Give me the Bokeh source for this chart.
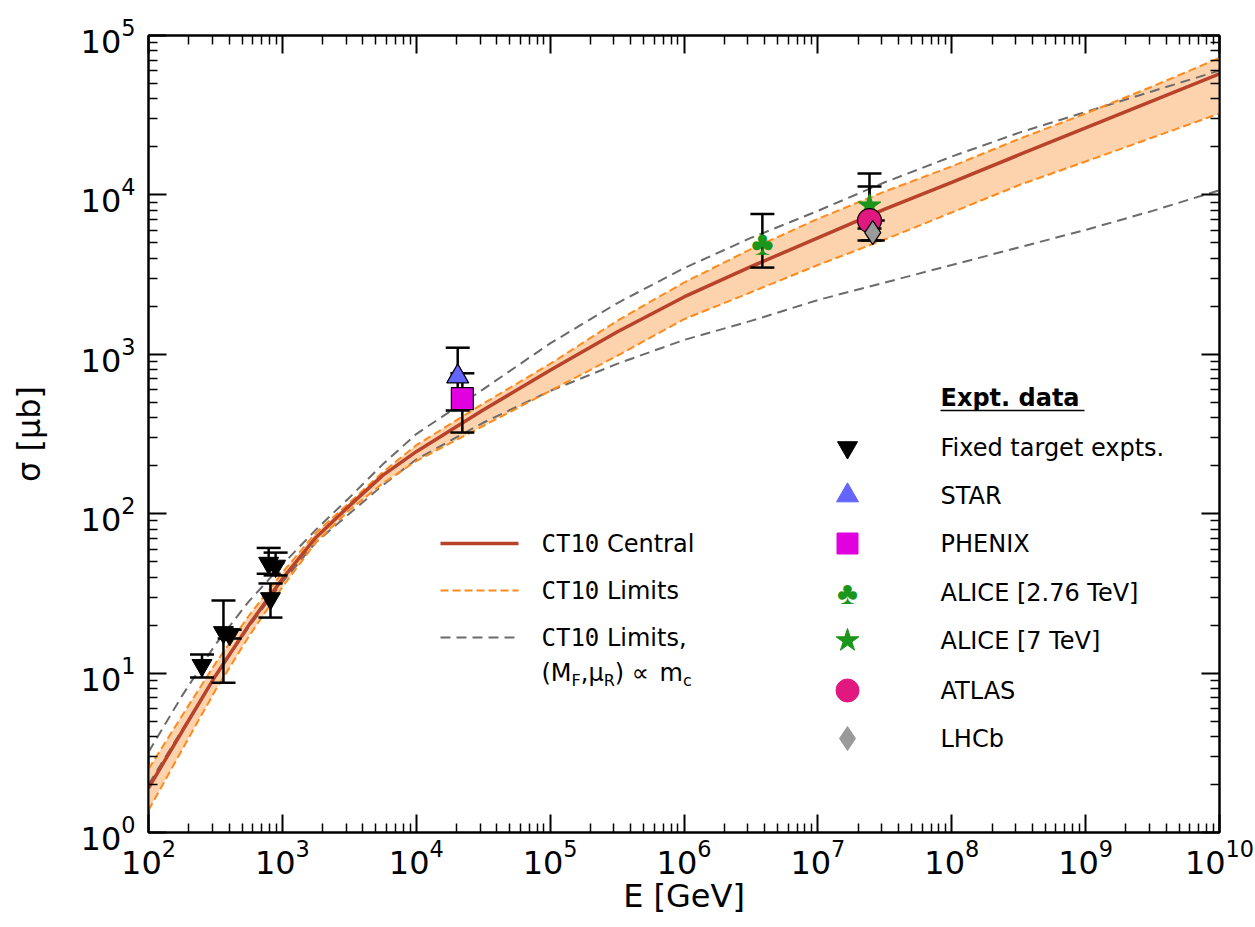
import math
from bokeh.plotting import figure
from bokeh.models import Range1d, LogAxis, FixedTicker, Label, LogTickFormatter
from bokeh.embed import file_html
from bokeh.resources import INLINE

# ---------------- data ----------------
energy_grid = [1e2, 1.78e2, 3.16e2, 5.62e2, 1e3, 1.78e3, 3.16e3, 5.62e3, 1e4, 3.16e4,
               1e5, 3.16e5, 1e6, 3.16e6, 1e7, 3.16e7, 1e8, 3.16e8, 1e9, 3.16e9, 1e10]
ct10_central = [1.9, 4.3, 9.6, 20, 39, 71, 112, 174, 245, 447, 794, 1380, 2290, 3550,
                5370, 8130, 12000, 17800, 26300, 38900, 57500]
ct10_upper = [2.5, 5.4, 11.5, 22.9, 42.7, 75.9, 117, 182, 269, 490, 871, 1620, 2820,
              4570, 7080, 10500, 15100, 22400, 32400, 47900, 72400]
ct10_lower = [1.38, 3.3, 7.8, 17.0, 34.7, 66.1, 105, 155, 214, 355, 589, 977, 1660,
              2450, 3630, 5250, 7760, 11500, 16200, 22900, 32400]
mc_upper = [3.2, 7.2, 15.1, 28.2, 47.9, 79.4, 126, 204, 316, 603, 1170, 2090, 3470,
            5370, 7940, 12000, 17400, 24500, 33100, 44700, 60300]
mc_lower = [2.0, 4.4, 9.5, 19.5, 37.2, 66.1, 100, 151, 219, 372, 589, 871, 1230,
            1620, 2190, 2820, 3630, 4680, 6030, 7940, 10700]

fixed_E = [251, 363, 404, 790, 815, 890]
fixed_sig = [11.2, 18.0, 17.5, 49, 29.4, 47]
fixed_hi = [13.1, 28.5, 18.7, 61, 36.5, 57]
fixed_lo = [9.4, 8.7, 16.5, 42, 22.3, 41]

star_E, star_sig, star_hi, star_lo = [2.04e4], [725], [1100], [444]
phenix_E, phenix_sig, phenix_hi, phenix_lo = [2.21e4], [527], [760], [323]
alice276_E, alice276_sig, alice276_hi, alice276_lo = [3.85e6], [4960], [7600], [3500]
alice7_E, alice7_sig, alice7_hi, alice7_lo = [2.43e7], [8560], [13600], [6150]
atlas_E, atlas_sig, atlas_hi, atlas_lo = [2.43e7], [6900], [11300], [5170]
lhcb_E, lhcb_sig, lhcb_hi, lhcb_lo = [2.57e7], [5800], [6900], [5170]

x_decades = [2, 3, 4, 5, 6, 7, 8, 9, 10]
y_decades = [0, 1, 2, 3, 4, 5]

# ---------------- layout helpers (pixel -> data) ----------------
W, H = 1255, 927
L, R, T, B = 148, 1219, 35, 832
PPX = (R - L) / 8.0
PPY = (B - T) / 5.0


def px(xp):
    return 10 ** (2 + (xp - L) / PPX)


def py(yp):
    return 10 ** ((B - yp) / PPY)


FONT = "DejaVu Sans"
MONO = "DejaVu Sans Mono"

p = figure(frame_width=R - L, frame_height=B - T, x_axis_type="log", y_axis_type="log",
           x_range=Range1d(1e2, 1e10), y_range=Range1d(1, 1e5),
           output_backend="svg", toolbar_location=None,
           min_border_left=L, min_border_right=W - R, min_border_top=T,
           min_border_bottom=H - B)
p.grid.visible = False
p.outline_line_color = "black"
p.outline_line_width = 2
p.background_fill_color = "white"
p.border_fill_color = "white"

xt = FixedTicker(ticks=[10.0 ** k for k in x_decades],
                 minor_ticks=[m * 10.0 ** k for k in range(2, 10) for m in range(2, 10)])
yt = FixedTicker(ticks=[10.0 ** k for k in y_decades],
                 minor_ticks=[m * 10.0 ** k for k in range(0, 5) for m in range(2, 10)])


def style_axis(ax, show):
    if show:
        ax.major_label_text_font_size = "32px"
        ax.major_label_text_font = FONT
        ax.major_label_text_color = "black"
        ax.formatter = LogTickFormatter()
    else:
        ax.major_label_text_font_size = "8px"
        ax.major_label_text_color = None
        ax.major_label_standoff = 2
    ax.major_tick_in = 18
    ax.major_tick_out = 0
    ax.minor_tick_in = 9
    ax.minor_tick_out = 0
    ax.major_tick_line_width = 2
    ax.minor_tick_line_width = 1.5
    ax.axis_line_width = 2
    ax.major_tick_line_color = "black"
    ax.minor_tick_line_color = "black"


p.xaxis.ticker = xt
p.yaxis.ticker = yt
for ax in p.xaxis + p.yaxis:
    style_axis(ax, True)
p.xaxis.major_label_standoff = 6
p.yaxis.major_label_standoff = 13
p.xaxis.axis_label = "E [GeV]"
p.yaxis.axis_label = "σ [μb]"
for ax in p.xaxis + p.yaxis:
    ax.axis_label_text_font = FONT
    ax.axis_label_text_font_size = "32px"
    ax.axis_label_text_font_style = "normal"
    ax.axis_label_text_color = "black"
p.xaxis.axis_label_standoff = 0
p.yaxis.axis_label_standoff = 30

top_ax = LogAxis(ticker=xt)
right_ax = LogAxis(ticker=yt)
style_axis(top_ax, False)
style_axis(right_ax, False)
p.add_layout(top_ax, "above")
p.add_layout(right_ax, "right")

# ---------------- curves ----------------
ORANGE = "#ff8a1c"
RED = "#b8432a"
GREY = "#6b6b6b"
p.varea(x=energy_grid, y1=ct10_lower, y2=ct10_upper, fill_color="#fdd3ae")
p.line(energy_grid, mc_upper, line_color=GREY, line_width=2, line_dash="10 6")
p.line(energy_grid, mc_lower, line_color=GREY, line_width=2, line_dash="10 6")
p.line(energy_grid, ct10_upper, line_color=ORANGE, line_width=2, line_dash="8 4")
p.line(energy_grid, ct10_lower, line_color=ORANGE, line_width=2, line_dash="8 4")
p.line(energy_grid, ct10_central, line_color=RED, line_width=3.5)

# ---------------- error bars (drawn as glyphs, under the markers) ----------------
for E, hi, lo in [(fixed_E, fixed_hi, fixed_lo), (star_E, star_hi, star_lo),
                  (phenix_E, phenix_hi, phenix_lo), (alice276_E, alice276_hi, alice276_lo),
                  (alice7_E, alice7_hi, alice7_lo), (atlas_E, atlas_hi, atlas_lo),
                  (lhcb_E, lhcb_hi, lhcb_lo)]:
    p.segment(x0=E, y0=lo, x1=E, y1=hi, line_color="black", line_width=2.5)
    p.scatter(E, hi, marker="dash", size=24, line_color="black", line_width=2.5)
    p.scatter(E, lo, marker="dash", size=24, line_color="black", line_width=2.5)

# ---------------- markers ----------------
C_STAR = "#6464ff"
C_PHENIX = "#e000e0"
C_GREEN = "#1a961a"
C_ATLAS = "#e0187f"
C_LHCB = "#9a9a9a"

p.scatter(fixed_E, fixed_sig, marker="inverted_triangle", size=20, fill_color="black",
          line_color="black")
p.scatter(star_E, star_sig, marker="triangle", size=22, fill_color=C_STAR,
          line_color="black", line_width=1.2)
p.scatter(phenix_E, phenix_sig, marker="square", size=22, fill_color=C_PHENIX,
          line_color="black", line_width=1.2)
p.scatter(alice7_E, alice7_sig, marker="star", size=24, fill_color=C_GREEN,
          line_color=C_GREEN)
p.scatter(atlas_E, atlas_sig, marker="circle", size=24, fill_color=C_ATLAS,
          line_color="black", line_width=1.2)
p.scatter(lhcb_E, lhcb_sig, marker="diamond", size=24, fill_color=C_LHCB,
          line_color="black", line_width=1.2)
p.text(x=alice276_E, y=alice276_sig, text=["\u2663"], text_color=C_GREEN,
       text_font_size="34px", text_align="center", text_baseline="middle")


def lab(x, y, text, size, align="left", baseline="middle", font=FONT, style="normal"):
    p.add_layout(Label(x=x, y=y, text=text, text_font=font, text_font_size=f"{size}px",
                       text_align=align, text_baseline=baseline,
                       text_font_style=style, text_color="black"))


# ---------------- left legend (curves) ----------------
LFS = 24
rows_l = [543, 590, 637]
p.line([px(440), px(518)], [py(rows_l[0])] * 2, line_color=RED, line_width=3.5)
p.line([px(440), px(518)], [py(rows_l[1])] * 2, line_color=ORANGE, line_width=2,
       line_dash="8 4")
p.line([px(440), px(518)], [py(rows_l[2])] * 2, line_color=GREY, line_width=2,
       line_dash="10 6")
MW = 0.602 * LFS * 4 + 0.318 * LFS
for yy, rest in zip(rows_l, ["Central", "Limits", "Limits,"]):
    lab(px(541), py(yy), "CT10", LFS, font=MONO)
    lab(px(541 + MW), py(yy), rest, LFS)
# second line: (M_F, mu_R) ∝ m_c
y2 = 672
SFS = 16
xc = 541
parts = [("(M", LFS, 0, (0.390 + 0.863)), ("F", SFS, 8, 0.575), (",μ", LFS, 0, 0.318 + 0.636),
         ("R", SFS, 8, 0.695), (")", LFS, 0, 0.390 + 0.318),
         ("∝", LFS, 0, 0.838 + 0.318), ("m", LFS, 0, 0.974), ("c", SFS, 8, 0.55)]
for t, fs, dy, wem in parts:
    lab(px(xc), py(y2 + dy), t, fs)
    xc += wem * fs

# ---------------- right legend (data) ----------------
lab(px(940), py(397), "Expt. data", 24, style="bold")
p.line([px(940), px(1084)], [py(410), py(410)], line_color="black", line_width=1.5)
rows_r = [447, 495, 543, 592, 640, 690, 738]
names = ["Fixed target expts.", "STAR", "PHENIX", "ALICE [2.76 TeV]", "ALICE [7 TeV]",
         "ATLAS", "LHCb"]
for yy, nm in zip(rows_r, names):
    lab(px(940), py(yy), nm, 24)
mx = px(847)
p.scatter([mx], [py(rows_r[0])], marker="inverted_triangle", size=20, fill_color="black",
          line_color="black")
p.scatter([mx], [py(rows_r[1])], marker="triangle", size=22, fill_color=C_STAR,
          line_color=C_STAR)
p.scatter([mx], [py(rows_r[2])], marker="square", size=21, fill_color=C_PHENIX,
          line_color=C_PHENIX)
p.text(x=[mx], y=[py(rows_r[3])], text=["\u2663"], text_color=C_GREEN,
       text_font_size="32px", text_align="center", text_baseline="middle")
p.scatter([mx], [py(rows_r[4])], marker="star", size=24, fill_color=C_GREEN,
          line_color=C_GREEN)
p.scatter([mx], [py(rows_r[5])], marker="circle", size=23, fill_color=C_ATLAS,
          line_color=C_ATLAS)
p.scatter([mx], [py(rows_r[6])], marker="diamond", size=24, fill_color=C_LHCB,
          line_color=C_LHCB)

open("out.html", "w").write(file_html(p, INLINE))
